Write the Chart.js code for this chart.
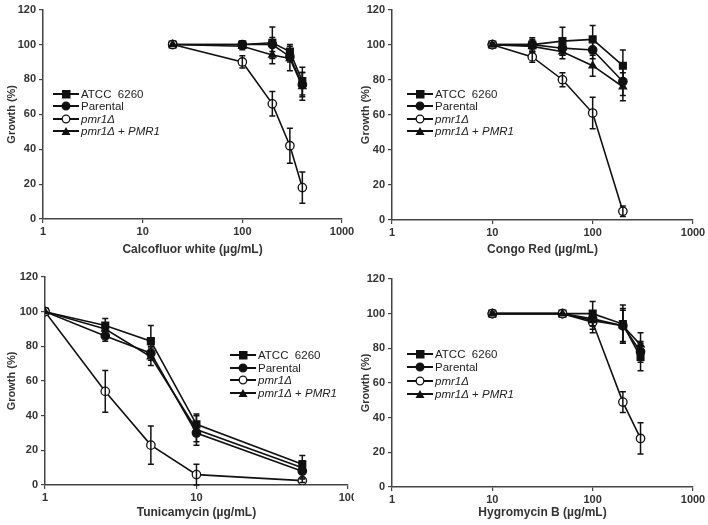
<!DOCTYPE html>
<html><head><meta charset="utf-8">
<script src="https://cdn.jsdelivr.net/npm/chart.js@4"></script>
<style>
body{margin:0;background:#fff;width:708px;height:525px;position:relative;overflow:hidden;font-family:"Liberation Sans",Arial,sans-serif}
.panel{position:absolute}
.legend{position:absolute;font-size:11.5px;color:#222}
.legend div{height:12.5px;line-height:12.5px;white-space:nowrap;display:flex;align-items:center}
.legend svg{margin-right:1px}
i{font-style:italic}
</style></head><body>
<script>
// legend names
const strains = ["ATCC 6260", "Parental", "pmr1Δ", "pmr1Δ + PMR1"];

// Calcofluor white
const cfwDoses = [20, 100, 200, 300, 400];
const cfwAtcc = [100, 100, 101, 96, 79];
const cfwParental = [100, 100, 100, 93, 77];
const cfwPmr1 = [100, 90, 66, 42, 18];
const cfwRescue = [100, 99, 94, 92, 76];
const cfwAtccErr = [0, 2, 9, 4, 8];
const cfwParentalErr = [0, 2, 4, 3, 7];
const cfwPmr1Err = [0, 3.5, 7, 10, 9];
const cfwRescueErr = [0, 2, 5, 7, 8];

// Congo Red
const crDoses = [10, 25, 50, 100, 200];
const crAtcc = [100, 100, 102, 103, 88];
const crParental = [100, 100, 98, 97, 79];
const crPmr1 = [100, 93, 80, 61, 5];
const crRescue = [100, 99, 96, 88, 76];
const crAtccErr = [1, 4, 8, 8, 9];
const crParentalErr = [1, 3, 4, 5, 8];
const crPmr1Err = [0, 3, 4, 9, 3];
const crRescueErr = [0, 3, 4, 6, 8];

// Tunicamycin
const tmDoses = [1, 2.5, 5, 10, 50];
const tmAtcc = [100, 92, 83, 35, 12];
const tmParental = [100, 86, 76, 30, 8];
const tmPmr1 = [100, 54, 23, 6, 2.5];
const tmRescue = [100, 90, 74, 32, 10];
const tmAtccErr = [0, 4, 9, 5, 5];
const tmParentalErr = [0, 3, 4, 5, 4];
const tmPmr1Err = [0, 12, 11, 6, 1];
const tmRescueErr = [0, 3, 5, 9, 4];

// Hygromycin B
const hygDoses = [10, 50, 100, 200, 300];
const hygAtcc = [100, 100, 100, 94, 75];
const hygParental = [100, 100, 97, 93, 78];
const hygPmr1 = [100, 100, 95, 49, 28];
const hygRescue = [100, 100, 96, 93, 82];
const hygAtccErr = [1, 0, 7, 11, 8];
const hygParentalErr = [0, 0, 4, 9, 6];
const hygPmr1Err = [0, 0, 6, 6, 9];
const hygRescueErr = [0, 0, 5, 10, 7];

const yTicks = [0, 20, 40, 60, 80, 100, 120];
const xTickValues = [1, 10, 100, 1000];

const panels = [
  {title: "Calcofluor white (µg/mL)", doses: cfwDoses, xMax: 1000,
   vals: [cfwAtcc, cfwParental, cfwPmr1, cfwRescue], errs: [cfwAtccErr, cfwParentalErr, cfwPmr1Err, cfwRescueErr],
   box: {left: 0, top: 0, w: 354, h: 262}, yw: 43, xh: 43, pt: 8, pr: 12, legend: [52, 88, 12.3]},
  {title: "Congo Red (µg/mL)", doses: crDoses, xMax: 1000,
   vals: [crAtcc, crParental, crPmr1, crRescue], errs: [crAtccErr, crParentalErr, crPmr1Err, crRescueErr],
   box: {left: 354, top: 0, w: 354, h: 262}, yw: 38, xh: 42, pt: 7, pr: 15, legend: [406, 88, 12.3]},
  {title: "Tunicamycin (µg/mL)", doses: tmDoses, xMax: 100,
   vals: [tmAtcc, tmParental, tmPmr1, tmRescue], errs: [tmAtccErr, tmParentalErr, tmPmr1Err, tmRescueErr],
   box: {left: 0, top: 262, w: 354, h: 263}, yw: 45, xh: 40, pt: 15, pr: 5, legend: [229, 349, 12.5]},
  {title: "Hygromycin B (µg/mL)", doses: hygDoses, xMax: 1000,
   vals: [hygAtcc, hygParental, hygPmr1, hygRescue], errs: [hygAtccErr, hygParentalErr, hygPmr1Err, hygRescueErr],
   box: {left: 354, top: 262, w: 354, h: 263}, yw: 38, xh: 38, pt: 17, pr: 15, legend: [406, 347, 13.5]}
];

const markers = [
  {style: "rect", fill: "#111", r: 4.8},
  {style: "circle", fill: "#111", r: 4.2},
  {style: "circle", fill: "#fff", r: 4.2},
  {style: "triangle", fill: "#111", r: 4.2}
];

const errorBars = {
  id: "errorBars",
  afterDatasetsDraw(chart) {
    const {ctx, scales: {x, y}} = chart;
    ctx.save();
    ctx.strokeStyle = "#111";
    ctx.lineWidth = 1.5;
    chart.data.datasets.forEach(ds => {
      ds.data.forEach((p, i) => {
        const e = ds.errors[i];
        if (!e) return;
        const px = x.getPixelForValue(p.x);
        const t = y.getPixelForValue(p.y + e), b = y.getPixelForValue(p.y - e);
        ctx.beginPath();
        ctx.moveTo(px, t); ctx.lineTo(px, b);
        ctx.moveTo(px - 3, t); ctx.lineTo(px + 3, t);
        ctx.moveTo(px - 3, b); ctx.lineTo(px + 3, b);
        ctx.stroke();
      });
    });
    ctx.restore();
  }
};

const tickFont = {family: "Liberation Sans, Arial", size: 11, weight: "bold"};

function markerSvg(m) {
  let shape;
  if (m.style === "rect") shape = '<rect x="10" y="2" width="8.5" height="8.5" fill="#111"/>';
  else if (m.style === "triangle") shape = '<polygon points="14,2 18.5,10 9.5,10" fill="#111"/>';
  else shape = '<circle cx="14" cy="6" r="3.8" fill="' + m.fill + '" stroke="#111" stroke-width="1.3"/>';
  return '<svg width="28" height="12"><line x1="1" y1="6" x2="27" y2="6" stroke="#111" stroke-width="2"/>' + shape + '</svg>';
}
const legendHtml = [
  "ATCC&nbsp; 6260", "Parental", "<i>pmr1Δ</i>", "<i>pmr1Δ</i> + <i>PMR1</i>"
];

panels.forEach(p => {
  const c = document.createElement("canvas");
  c.className = "panel";
  c.width = p.box.w; c.height = p.box.h;
  c.style.left = p.box.left + "px"; c.style.top = p.box.top + "px";
  c.style.width = p.box.w + "px"; c.style.height = p.box.h + "px";
  document.body.appendChild(c);

  new Chart(c.getContext("2d"), {
    type: "line",
    data: {
      datasets: strains.map((name, k) => ({
        label: name,
        data: p.doses.map((d, i) => ({x: d, y: p.vals[k][i]})),
        errors: p.errs[k],
        borderColor: "#111",
        borderWidth: 1.6,
        pointStyle: markers[k].style,
        pointRadius: markers[k].r,
        pointBackgroundColor: markers[k].fill,
        pointBorderColor: "#111",
        pointBorderWidth: 1.3,
        fill: false,
        tension: 0
      })).reverse()
    },
    options: {
      responsive: false,
      animation: false,
      layout: {padding: {top: p.pt, right: p.pr, left: 0, bottom: 0}},
      plugins: {legend: {display: false}, tooltip: {enabled: false}},
      scales: {
        x: {
          type: "logarithmic", min: 1, max: p.xMax,
          afterBuildTicks: ax => { ax.ticks = xTickValues.filter(v => v <= p.xMax).map(v => ({value: v})); },
          afterFit: s => { s.height = p.xh; s.paddingRight = 0; s.paddingLeft = 0; },
          ticks: {font: tickFont, color: "#333", maxRotation: 0, autoSkip: false, padding: 2, callback: v => String(v)},
          grid: {drawOnChartArea: false, tickLength: 4, color: "#444", lineWidth: 1.2},
          border: {color: "#444", width: 1.5},
          title: {display: true, text: p.title, color: "#333", font: {family: "Liberation Sans, Arial", size: 12, weight: "bold"}, padding: {top: 4, bottom: 5}}
        },
        y: {
          min: 0, max: 120,
          afterBuildTicks: ax => { ax.ticks = yTicks.map(v => ({value: v})); },
          afterFit: s => { s.width = p.yw; },
          ticks: {font: tickFont, color: "#333", padding: 3},
          grid: {drawOnChartArea: false, tickLength: 4, color: "#444", lineWidth: 1.2},
          border: {color: "#444", width: 1.5},
          title: {display: true, text: "Growth (%)", color: "#333", font: {family: "Liberation Sans, Arial", size: 11, weight: "bold"}, padding: {top: 5, bottom: 2}}
        }
      }
    },
    plugins: [errorBars]
  });

  const lg = document.createElement("div");
  lg.className = "legend";
  lg.style.left = p.legend[0] + "px";
  lg.style.top = p.legend[1] + "px";
  lg.innerHTML = strains.map((s, k) =>
    '<div style="height:' + p.legend[2] + 'px">' + markerSvg(markers[k]) + '<span>' + legendHtml[k] + '</span></div>').join("");
  document.body.appendChild(lg);
});
</script>
</body></html>
